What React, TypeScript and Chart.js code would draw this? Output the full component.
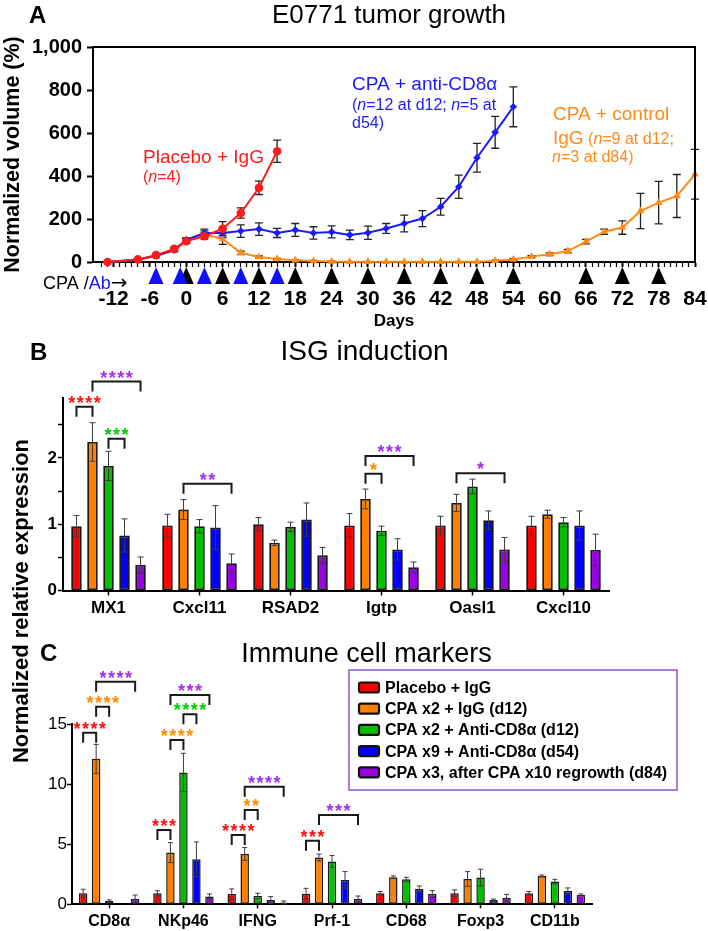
import React, { useEffect, useRef } from 'react';
import { Chart, registerables } from 'chart.js';

Chart.register(...registerables);

const FONT = '"Liberation Sans", Arial, Helvetica, sans-serif';
const W = 708;
const H = 931;

/* ---------------- Panel A: tumor growth ---------------- */
const placeboDays = [-13, -8, -5, -2, 0, 3, 6, 9, 12, 15];
const placeboVolume = [0, 12, 32, 61, 97, 120, 155, 228, 345, 515];
const placeboSem = [2, 4, 5, 7, 10, 14, 33, 24, 31, 52];

const antiCd8Days = [-13, -8, -5, -2, 0, 3, 6, 9, 12, 15, 18, 21, 24, 27, 30, 33, 36, 39, 42, 45, 48, 51, 54];
const antiCd8Volume = [0, 10, 30, 55, 103, 135, 135, 144, 153, 135, 149, 135, 140, 126, 136, 156, 179, 202, 257, 350, 485, 603, 722];
const antiCd8Sem = [2, 4, 5, 6, 10, 18, 22, 29, 29, 21, 30, 29, 28, 22, 31, 23, 39, 37, 39, 54, 67, 74, 93];

const controlIgGDays = [-13, -8, -5, -2, 0, 3, 6, 9, 12, 15, 18, 21, 24, 27, 30, 33, 36, 39, 42, 45, 48, 51, 54, 57, 60, 63, 66, 69, 72, 75, 78, 81, 84];
const controlIgGVolume = [0, 10, 28, 52, 100, 130, 107, 43, 23, 14, 8, 5, 2, 1, 1, 1, 1, 1, 1, 1, 1, 6, 12, 25, 36, 51, 95, 141, 160, 237, 276, 307, 408];
const controlIgGSem = [2, 4, 5, 6, 10, 15, 25, 8, 5, 3, 2, 2, 2, 1, 1, 1, 1, 1, 1, 1, 1, 3, 4, 5, 6, 8, 10, 12, 31, 82, 99, 100, 116];

const antibodyDays = [-5, -1, 3, 9, 15];
const cpaDays = [0, 6, 12, 18, 24, 30, 36, 42, 48, 54, 66, 72, 78];

/* ---------------- Panel B: ISG induction ---------------- */
const isgGenes = ['MX1', 'Cxcl11', 'RSAD2', 'Igtp', 'Oasl1', 'Cxcl10'];
const isgPlacebo = [0.97, 0.98, 1.0, 0.98, 0.98, 0.98];
const isgPlaceboSem = [0.16, 0.17, 0.1, 0.18, 0.14, 0.14];
const isgCpaIgG = [2.24, 1.22, 0.72, 1.38, 1.32, 1.15];
const isgCpaIgGSem = [0.29, 0.15, 0.04, 0.15, 0.13, 0.06];
const isgCpaCd8 = [1.88, 0.97, 0.96, 0.9, 1.57, 1.03];
const isgCpaCd8Sem = [0.22, 0.1, 0.07, 0.07, 0.11, 0.07];
const isgCpa9Cd8 = [0.83, 0.95, 1.07, 0.62, 1.06, 0.98];
const isgCpa9Cd8Sem = [0.25, 0.33, 0.25, 0.16, 0.14, 0.22];
const isgRegrowth = [0.385, 0.41, 0.53, 0.35, 0.62, 0.61];
const isgRegrowthSem = [0.12, 0.14, 0.12, 0.08, 0.18, 0.24];

/* ---------------- Panel C: immune cell markers ---------------- */
const immuneMarkers = ['CD8α', 'NKp46', 'IFNG', 'Prf-1', 'CD68', 'Foxp3', 'CD11b'];
const imPlacebo = [0.92, 0.92, 0.86, 0.86, 0.92, 0.92, 0.92];
const imPlaceboSem = [0.33, 0.21, 0.42, 0.47, 0.14, 0.28, 0.14];
const imCpaIgG = [12.1, 4.3, 4.19, 3.89, 2.25, 2.11, 2.36];
const imCpaIgGSem = [1.2, 0.83, 0.53, 0.28, 0.11, 0.61, 0.08];
const imCpaCd8 = [0.27, 10.97, 0.69, 3.56, 2.08, 2.22, 1.89];
const imCpaCd8Sem = [0.1, 1.6, 0.23, 0.5, 0.17, 0.7, 0.19];
const imCpa9Cd8 = [null, 3.75, 0.36, 2.03, 1.28, 0.36, 1.11];
const imCpa9Cd8Sem = [null, 1.44, 0.28, 0.69, 0.25, 0.08, 0.25];
const imRegrowth = [0.44, 0.64, 0.16, 0.44, 0.86, 0.55, 0.78];
const imRegrowthSem = [0.33, 0.22, 0.12, 0.25, 0.28, 0.28, 0.08];

const groupLabels = [
  'Placebo + IgG',
  'CPA x2 + IgG (d12)',
  'CPA x2 + Anti-CD8α (d12)',
  'CPA x9 + Anti-CD8α (d54)',
  'CPA x3, after CPA x10 regrowth (d84)',
];
const groupColors = ['#FF0000', '#FF8000', '#00C000', '#0000FF', '#9900E6'];

const STAR_RED = '#FF1010';
const STAR_ORANGE = '#FF8C00';
const STAR_GREEN = '#00CC00';
const STAR_PURPLE = '#A030F0';

// significance brackets: group index, bar from/to (series index), top value, stars
const isgBrackets = [
  { group: 0, from: 0, to: 1, top: 2.77, stars: '****', color: STAR_RED },
  { group: 0, from: 1, to: 4, top: 3.15, stars: '****', color: STAR_PURPLE },
  { group: 0, from: 2, to: 3, top: 2.29, stars: '***', color: STAR_GREEN },
  { group: 1, from: 1, to: 4, top: 1.61, stars: '**', color: STAR_PURPLE },
  { group: 3, from: 1, to: 2, top: 1.76, stars: '*', color: STAR_ORANGE },
  { group: 3, from: 1, to: 4, top: 2.03, stars: '***', color: STAR_PURPLE },
  { group: 4, from: 1, to: 4, top: 1.77, stars: '*', color: STAR_PURPLE },
];
const immuneBrackets = [
  { group: 0, from: 0, to: 1, top: 14.28, stars: '****', color: STAR_RED },
  { group: 0, from: 1, to: 2, top: 16.44, stars: '****', color: STAR_ORANGE },
  { group: 0, from: 1, to: 4, top: 18.52, stars: '****', color: STAR_PURPLE },
  { group: 1, from: 0, to: 1, top: 6.18, stars: '***', color: STAR_RED },
  { group: 1, from: 1, to: 2, top: 13.67, stars: '****', color: STAR_ORANGE },
  { group: 1, from: 2, to: 3, top: 15.81, stars: '****', color: STAR_GREEN },
  { group: 1, from: 1, to: 4, top: 17.41, stars: '***', color: STAR_PURPLE },
  { group: 2, from: 0, to: 1, top: 5.77, stars: '****', color: STAR_RED },
  { group: 2, from: 1, to: 2, top: 7.85, stars: '**', color: STAR_ORANGE },
  { group: 2, from: 1, to: 4, top: 9.78, stars: '****', color: STAR_PURPLE },
  { group: 3, from: 0, to: 1, top: 5.29, stars: '***', color: STAR_RED },
  { group: 3, from: 1, to: 4, top: 7.43, stars: '***', color: STAR_PURPLE },
];

const RED_LINE = '#FF1A1A';
const BLUE_LINE = '#1A1AFF';
const ORANGE_LINE = '#FF8A14';

type Part = { t: string; s: number; i?: boolean; b?: boolean; c?: string; f?: string };
const annotationsA: { day: number; vol: number; color: string; parts: Part[] }[] = [
  { day: -7.14, vol: 460, color: RED_LINE, parts: [{ t: 'Placebo + IgG', s: 19 }] },
  { day: -7.14, vol: 372, color: RED_LINE, parts: [{ t: '(', s: 16 }, { t: 'n', s: 16, i: true }, { t: '=4)', s: 16 }] },
  { day: 27.37, vol: 800, color: BLUE_LINE, parts: [{ t: 'CPA + anti-CD8α', s: 19 }] },
  { day: 27.37, vol: 707, color: BLUE_LINE, parts: [{ t: '(', s: 16 }, { t: 'n', s: 16, i: true }, { t: '=12 at d12; ', s: 16 }, { t: 'n', s: 16, i: true }, { t: '=5 at', s: 16 }] },
  { day: 27.37, vol: 623, color: BLUE_LINE, parts: [{ t: 'd54)', s: 16 }] },
  { day: 60.55, vol: 660, color: ORANGE_LINE, parts: [{ t: 'CPA + control', s: 19 }] },
  { day: 60.55, vol: 549, color: ORANGE_LINE, parts: [{ t: 'IgG', s: 19 }, { t: ' (', s: 16 }, { t: 'n', s: 16, i: true }, { t: '=9 at d12;', s: 16 }] },
  { day: 60.4, vol: 465, color: ORANGE_LINE, parts: [{ t: 'n', s: 16, i: true }, { t: '=3 at d84)', s: 16 }] },
];

function drawParts(ctx: CanvasRenderingContext2D, parts: Part[], x: number, y: number, color: string) {
  let cx = x;
  ctx.textAlign = 'left';
  ctx.textBaseline = 'alphabetic';
  for (const p of parts) {
    ctx.font = `${p.i ? 'italic ' : ''}${p.b ? 'bold ' : ''}${p.s}px ${p.f ?? FONT}`;
    ctx.fillStyle = p.c ?? color;
    ctx.fillText(p.t, cx, y);
    cx += ctx.measureText(p.t).width;
  }
}

function drawText(ctx: CanvasRenderingContext2D, text: string, x: number, y: number, font: string, align: CanvasTextAlign = 'left', color = '#000') {
  ctx.font = font;
  ctx.fillStyle = color;
  ctx.textAlign = align;
  ctx.textBaseline = 'alphabetic';
  ctx.fillText(text, x, y);
}

function drawErrorBars(chart: any, capHalf: number, color: string, width: number) {
  const ctx: CanvasRenderingContext2D = chart.ctx;
  const ys = chart.scales.y;
  ctx.save();
  ctx.strokeStyle = color;
  ctx.lineWidth = width;
  chart.data.datasets.forEach((ds: any, di: number) => {
    if (!ds.errors) return;
    const meta = chart.getDatasetMeta(di);
    meta.data.forEach((el: any, i: number) => {
      const raw = ds.data[i];
      const v = raw !== null && typeof raw === 'object' ? raw.y : raw;
      const e = ds.errors[i];
      if (v == null || e == null || e === 0) return;
      const x = el.x;
      const y1 = ys.getPixelForValue(v + e);
      const y2 = ys.getPixelForValue(Math.max(v - e, 0));
      ctx.beginPath();
      ctx.moveTo(x, y1);
      ctx.lineTo(x, y2);
      ctx.moveTo(x - capHalf, y1);
      ctx.lineTo(x + capHalf, y1);
      ctx.moveTo(x - capHalf, y2);
      ctx.lineTo(x + capHalf, y2);
      ctx.stroke();
    });
  });
  ctx.restore();
}

function drawBrackets(chart: any, brackets: typeof isgBrackets) {
  const ctx: CanvasRenderingContext2D = chart.ctx;
  const ys = chart.scales.y;
  ctx.save();
  for (const b of brackets) {
    const x1 = chart.getDatasetMeta(b.from).data[b.group].x;
    const x2 = chart.getDatasetMeta(b.to).data[b.group].x;
    const yt = ys.getPixelForValue(b.top);
    ctx.strokeStyle = '#1a1a1a';
    ctx.lineWidth = 2;
    ctx.beginPath();
    ctx.moveTo(x1, yt + 10);
    ctx.lineTo(x1, yt);
    ctx.lineTo(x2, yt);
    ctx.lineTo(x2, yt + 10);
    ctx.stroke();
    ctx.font = `bold 18px ${FONT}`;
    (ctx as any).letterSpacing = '1.5px';
    ctx.fillStyle = b.color;
    ctx.textAlign = 'center';
    ctx.textBaseline = 'alphabetic';
    ctx.fillText(b.stars, (x1 + x2) / 2 + 0.75, yt + 2);
    (ctx as any).letterSpacing = '0px';
  }
  ctx.restore();
}

const integerTicks = (s: any) => {
  s.ticks = s.ticks.filter((t: any) => Math.abs(t.value - Math.round(t.value)) < 1e-9);
};
const halfTicks = (s: any) => {
  s.ticks = s.ticks.filter((t: any) => Math.abs(t.value * 2 - Math.round(t.value * 2)) < 1e-9);
};

const toXY = (xs: number[], ys: number[]) => xs.map((x, i) => ({ x, y: ys[i] }));

function makeChartA(canvas: HTMLCanvasElement) {
  const plugin = {
    id: 'panelA',
    beforeDatasetsDraw(chart: any) {
      drawErrorBars(chart, 4, '#222', 1.3);
    },
    afterDraw(chart: any) {
      const ctx: CanvasRenderingContext2D = chart.ctx;
      const { left, right, top, bottom } = chart.chartArea;
      const xs = chart.scales.x;
      const ys = chart.scales.y;
      ctx.save();
      // frame
      ctx.strokeStyle = '#000';
      ctx.lineWidth = 2;
      ctx.beginPath();
      ctx.moveTo(left, top);
      ctx.lineTo(right, top);
      ctx.lineTo(right, bottom);
      ctx.stroke();
      // treatment triangles
      const tri = (d: number, color: string) => {
        const x = xs.getPixelForValue(d);
        ctx.fillStyle = color;
        ctx.beginPath();
        ctx.moveTo(x, bottom + 5);
        ctx.lineTo(x - 7.5, bottom + 22);
        ctx.lineTo(x + 7.5, bottom + 22);
        ctx.closePath();
        ctx.fill();
      };
      cpaDays.forEach((d) => tri(d, '#000'));
      antibodyDays.forEach((d) => tri(d, '#1010FF'));
      // CPA / Ab legend
      drawParts(ctx, [
        { t: 'CPA /', s: 18 },
        { t: 'Ab', s: 18, c: '#1010FF' },
        { t: '→', s: 20, f: '"DejaVu Sans", sans-serif' },
      ], 43, 289, '#000');
      // panel label and title
      drawText(ctx, 'A', 29, 23, `bold 24px ${FONT}`);
      drawText(ctx, 'E0771 tumor growth', 389, 23, `26px ${FONT}`, 'center');
      // annotations
      for (const a of annotationsA) {
        drawParts(ctx, a.parts, xs.getPixelForValue(a.day), ys.getPixelForValue(a.vol), a.color);
      }
      ctx.restore();
    },
  };
  const lineStyle = { borderWidth: 2, pointBorderWidth: 0, tension: 0, clip: false as any };
  return new Chart(canvas, {
    type: 'line',
    data: {
      datasets: [
        { label: 'Placebo + IgG', data: toXY(placeboDays, placeboVolume), errors: placeboSem, borderColor: RED_LINE, backgroundColor: RED_LINE, pointStyle: 'circle', pointRadius: 4.3, ...lineStyle },
        { label: 'CPA + anti-CD8α', data: toXY(antiCd8Days, antiCd8Volume), errors: antiCd8Sem, borderColor: BLUE_LINE, backgroundColor: BLUE_LINE, pointStyle: 'rectRot', pointRadius: 3.8, ...lineStyle },
        { label: 'CPA + control IgG', data: toXY(controlIgGDays, controlIgGVolume), errors: controlIgGSem, borderColor: ORANGE_LINE, backgroundColor: ORANGE_LINE, pointStyle: 'triangle', pointRadius: 4.5, ...lineStyle },
      ] as any,
    },
    options: {
      responsive: false,
      animation: false,
      devicePixelRatio: 1,
      layout: { padding: { left: 0, top: 47, right: 13, bottom: H - 262 - 70 } },
      plugins: { legend: { display: false }, tooltip: { enabled: false } },
      scales: {
        x: {
          type: 'linear',
          min: -15.4,
          max: 84,
          afterBuildTicks: integerTicks,
          afterFit: (s: any) => {
            s.height = 70;
            s.paddingLeft = 0;
            s.paddingRight = 0;
          },
          ticks: {
            stepSize: 1,
            autoSkip: false,
            maxRotation: 0,
            minRotation: 0,
            padding: 20,
            color: '#000',
            font: { family: FONT, size: 21, weight: 'bold' },
            callback: (v: any) => (v % 6 === 0 ? String(v) : ''),
          },
          grid: {
            drawOnChartArea: false,
            tickLength: 5,
            tickColor: '#000',
            tickWidth: (c: any) => (c.tick && c.tick.value % 6 === 0 ? 2 : 1.2),
          },
          border: { display: true, color: '#000', width: 2 },
          title: { display: true, text: 'Days', color: '#000', font: { family: FONT, size: 17, weight: 'bold' }, padding: { top: 0, bottom: 0 } },
        },
        y: {
          min: 0,
          max: 1000,
          afterFit: (s: any) => { s.width = 93; },
          ticks: {
            stepSize: 100,
            padding: 5,
            color: '#000',
            font: { family: FONT, size: 20, weight: 'bold' },
            callback: (v: any) => (v % 200 === 0 ? Number(v).toLocaleString('en-US') : ''),
          },
          grid: {
            drawOnChartArea: false,
            tickLength: 6,
            tickColor: '#000',
            tickWidth: (c: any) => (c.tick && c.tick.value % 200 === 0 ? 2 : 1.2),
          },
          border: { display: true, color: '#000', width: 2 },
          title: { display: true, text: 'Normalized volume (%)', color: '#000', font: { family: FONT, size: 21.5, weight: 'bold' }, padding: { top: 0, bottom: 0 } },
        },
      },
    } as any,
    plugins: [plugin],
  });
}

function barDatasets(values: (number | null)[][], sems: (number | null)[][], border: number) {
  return values.map((v, i) => ({
    label: groupLabels[i],
    data: v,
    errors: sems[i],
    backgroundColor: groupColors[i],
    borderColor: '#1a1a1a',
    borderWidth: border,
    borderSkipped: false,
    categoryPercentage: 0.88,
    barPercentage: 0.66,
  }));
}

function makeChartB(canvas: HTMLCanvasElement) {
  const plugin = {
    id: 'panelB',
    afterDatasetsDraw(chart: any) {
      drawErrorBars(chart, 3, '#3c3c3c', 1);
    },
    afterDraw(chart: any) {
      const ctx: CanvasRenderingContext2D = chart.ctx;
      ctx.save();
      drawText(ctx, 'B', 30, 359.5, `bold 24px ${FONT}`);
      drawText(ctx, 'ISG induction', 364.5, 360, `28px ${FONT}`, 'center');
      ctx.restore();
      drawBrackets(chart, isgBrackets);
    },
  };
  return new Chart(canvas, {
    type: 'bar',
    data: {
      labels: isgGenes,
      datasets: barDatasets(
        [isgPlacebo, isgCpaIgG, isgCpaCd8, isgCpa9Cd8, isgRegrowth],
        [isgPlaceboSem, isgCpaIgGSem, isgCpaCd8Sem, isgCpa9Cd8Sem, isgRegrowthSem],
        1.8,
      ) as any,
    },
    options: {
      responsive: false,
      animation: false,
      devicePixelRatio: 1,
      layout: { padding: { left: 0, top: 398.2, right: W - 609, bottom: H - 590.5 - 30 } },
      plugins: { legend: { display: false }, tooltip: { enabled: false } },
      scales: {
        x: {
          afterFit: (s: any) => {
            s.height = 30;
            s.paddingLeft = 0;
            s.paddingRight = 0;
          },
          ticks: { padding: 2.3, maxRotation: 0, color: '#000', font: { family: FONT, size: 17, weight: 'bold' } },
          grid: { offset: false, drawOnChartArea: false, tickLength: 5, tickColor: '#000', tickWidth: 1.5 },
          border: { display: true, color: '#000', width: 2 },
        },
        y: {
          min: 0,
          max: 2.9,
          afterBuildTicks: halfTicks,
          afterFit: (s: any) => { s.width = 63; },
          ticks: {
            stepSize: 0.5,
            padding: 1,
            color: '#000',
            font: { family: FONT, size: 17, weight: 'bold' },
            callback: (v: any) => (Number.isInteger(v) ? String(v) : ''),
          },
          grid: { drawOnChartArea: false, tickLength: 5, tickColor: '#000', tickWidth: 1.5 },
          border: { display: true, color: '#000', width: 2 },
        },
      },
    } as any,
    plugins: [plugin],
  });
}

function makeChartC(canvas: HTMLCanvasElement) {
  const plugin = {
    id: 'panelC',
    afterDatasetsDraw(chart: any) {
      drawErrorBars(chart, 2.5, '#3c3c3c', 1);
    },
    afterDraw(chart: any) {
      const ctx: CanvasRenderingContext2D = chart.ctx;
      ctx.save();
      drawText(ctx, 'C', 40, 661, `bold 24px ${FONT}`);
      drawText(ctx, 'Immune cell markers', 366.5, 661.7, `27px ${FONT}`, 'center');
      // shared y title for panels B and C
      ctx.translate(22, 601);
      ctx.rotate(-Math.PI / 2);
      ctx.font = `bold 22px ${FONT}`;
      ctx.fillStyle = '#000';
      ctx.textAlign = 'center';
      ctx.textBaseline = 'middle';
      ctx.fillText('Normalized relative expression', 0, 0);
      ctx.restore();

      drawBrackets(chart, immuneBrackets);

      // legend
      ctx.save();
      const bx = 349, by = 670, bw = 328, bh = 120;
      ctx.strokeStyle = '#8A55C8';
      ctx.lineWidth = 1.5;
      ctx.strokeRect(bx, by, bw, bh);
      chart.data.datasets.forEach((ds: any, i: number) => {
        const cy = 687.5 + i * 21.2;
        ctx.fillStyle = ds.backgroundColor;
        ctx.strokeStyle = '#111';
        ctx.lineWidth = 2.2;
        ctx.beginPath();
        (ctx as any).roundRect(359, cy - 5, 20, 10, 2);
        ctx.fill();
        ctx.stroke();
        ctx.font = `bold 16px ${FONT}`;
        ctx.fillStyle = '#000';
        ctx.textAlign = 'left';
        ctx.textBaseline = 'middle';
        ctx.fillText(ds.label, 385, cy + 1);
      });
      ctx.restore();
    },
  };
  return new Chart(canvas, {
    type: 'bar',
    data: {
      labels: immuneMarkers,
      datasets: barDatasets(
        [imPlacebo, imCpaIgG, imCpaCd8, imCpa9Cd8, imRegrowth],
        [imPlaceboSem, imCpaIgGSem, imCpaCd8Sem, imCpa9Cd8Sem, imRegrowthSem],
        1.5,
      ).map((d) => ({ ...d, categoryPercentage: 0.875, barPercentage: 0.65 })) as any,
    },
    options: {
      responsive: false,
      animation: false,
      devicePixelRatio: 1,
      layout: { padding: { left: 0, top: 724, right: W - 592, bottom: 0 } },
      plugins: { legend: { display: false }, tooltip: { enabled: false } },
      scales: {
        x: {
          afterFit: (s: any) => {
            s.height = H - 904.3;
            s.paddingLeft = 0;
            s.paddingRight = 0;
          },
          ticks: { padding: 3.8, maxRotation: 0, color: '#000', font: { family: FONT, size: 16, weight: 'bold' } },
          grid: { offset: false, drawOnChartArea: false, tickLength: 4, tickColor: '#000', tickWidth: 1.5 },
          border: { display: true, color: '#000', width: 2 },
        },
        y: {
          min: 0,
          max: 15,
          afterFit: (s: any) => { s.width = 72; },
          ticks: {
            stepSize: 5,
            padding: 0,
            color: '#000',
            font: { family: FONT, size: 17 },
          },
          grid: { drawOnChartArea: false, tickLength: 5, tickColor: '#000', tickWidth: 1.5 },
          border: { display: true, color: '#000', width: 2 },
        },
      },
    } as any,
    plugins: [plugin],
  });
}

function ChartLayer({ make }: { make: (c: HTMLCanvasElement) => Chart }) {
  const ref = useRef<HTMLCanvasElement>(null);
  useEffect(() => {
    const chart = make(ref.current as HTMLCanvasElement);
    return () => chart.destroy();
  }, [make]);
  return (
    <canvas
      ref={ref}
      width={W}
      height={H}
      style={{ position: 'absolute', left: 0, top: 0, width: W, height: H }}
    />
  );
}

export default function App() {
  return (
    <div style={{ position: 'absolute', left: 0, top: 0, width: W, height: H, background: '#fff', overflow: 'hidden' }}>
      <ChartLayer make={makeChartA} />
      <ChartLayer make={makeChartB} />
      <ChartLayer make={makeChartC} />
    </div>
  );
}
